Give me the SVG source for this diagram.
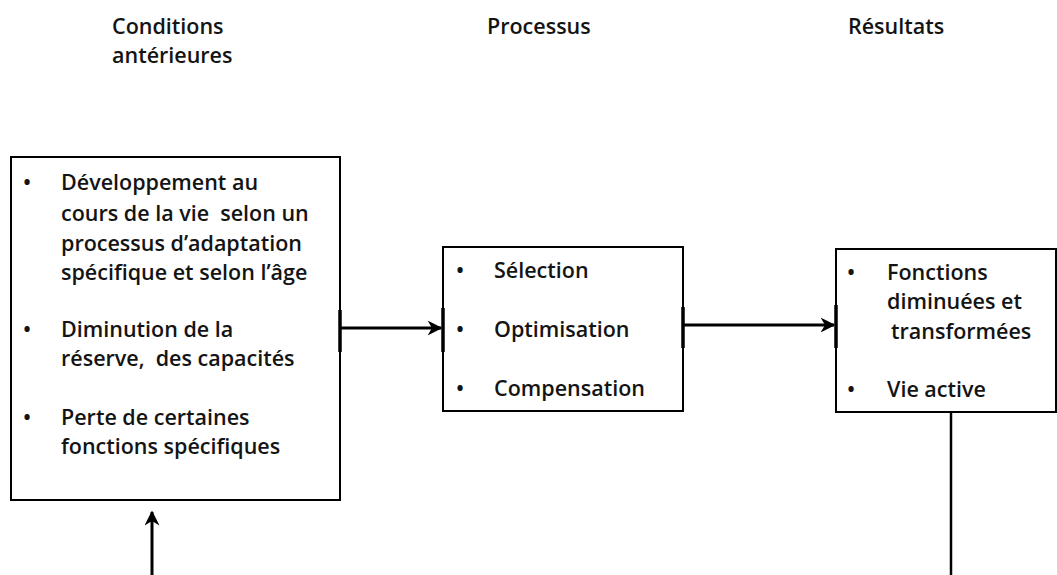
<svg xmlns="http://www.w3.org/2000/svg" width="1057" height="575" viewBox="0 0 1057 575">
<style>
text{font-family:"Open Sans","Liberation Sans",sans-serif;font-size:21.5px;font-weight:600;fill:#141414}
.box{fill:#fff;stroke:#000;stroke-width:2}
.tick{stroke:#000;stroke-width:3.5}
.con{stroke:#000;stroke-width:3;fill:none}
.line{stroke:#000;stroke-width:2.5;fill:none}
</style>
<defs>
<marker id="ah" viewBox="0 0 10 10" refX="9" refY="5" markerWidth="5" markerHeight="5" orient="auto" markerUnits="strokeWidth">
<path d="M0,0 L10,5 L0,10 L3,5 z" fill="#000"/>
</marker>
</defs>
<rect width="1057" height="575" fill="#fff"/>
<g id="headers">
<text x="112" y="34">Conditions</text>
<text x="112" y="63">antérieures</text>
<text x="487" y="34">Processus</text>
<text x="848" y="34">Résultats</text>
</g>
<g id="conditions">
<rect class="box" x="11" y="157" width="329" height="343"/>
<text x="23" y="190">•</text>
<text x="61" y="190">Développement au</text>
<text x="61" y="221" xml:space="preserve">cours de la vie  selon un</text>
<text x="61" y="251">processus d’adaptation</text>
<text x="61" y="280">spécifique et selon l’âge</text>
<text x="23" y="337">•</text>
<text x="61" y="337">Diminution de la</text>
<text x="61" y="366" xml:space="preserve">réserve,  des capacités</text>
<text x="23" y="425">•</text>
<text x="61" y="425">Perte de certaines</text>
<text x="61" y="454">fonctions spécifiques</text>
<line class="tick" x1="340" y1="310" x2="340" y2="352"/>
</g>
<g id="processus">
<rect class="box" x="443" y="247" width="240" height="164"/>
<text x="456" y="278">•</text>
<text x="494" y="278">Sélection</text>
<text x="456" y="337">•</text>
<text x="494" y="337">Optimisation</text>
<text x="456" y="396">•</text>
<text x="494" y="396">Compensation</text>
<line class="tick" x1="443" y1="308" x2="443" y2="352"/>
<line class="tick" x1="683" y1="307" x2="683" y2="348"/>
</g>
<g id="resultats">
<rect class="box" x="836" y="249" width="220" height="163"/>
<text x="847" y="280">•</text>
<text x="887" y="280">Fonctions</text>
<text x="887" y="309">diminuées et</text>
<text x="891" y="339">transformées</text>
<text x="847" y="397">•</text>
<text x="887" y="397">Vie active</text>
<line class="tick" x1="836" y1="305" x2="836" y2="348"/>
</g>
<g id="connectors">
<line class="con" x1="341" y1="328" x2="441" y2="328" marker-end="url(#ah)"/>
<line class="con" x1="684" y1="325" x2="834" y2="325" marker-end="url(#ah)"/>
<line class="line" x1="951" y1="412" x2="951" y2="575"/>
<line class="con" x1="152" y1="575" x2="152" y2="512" marker-end="url(#ah)"/>
</g>
</svg>
